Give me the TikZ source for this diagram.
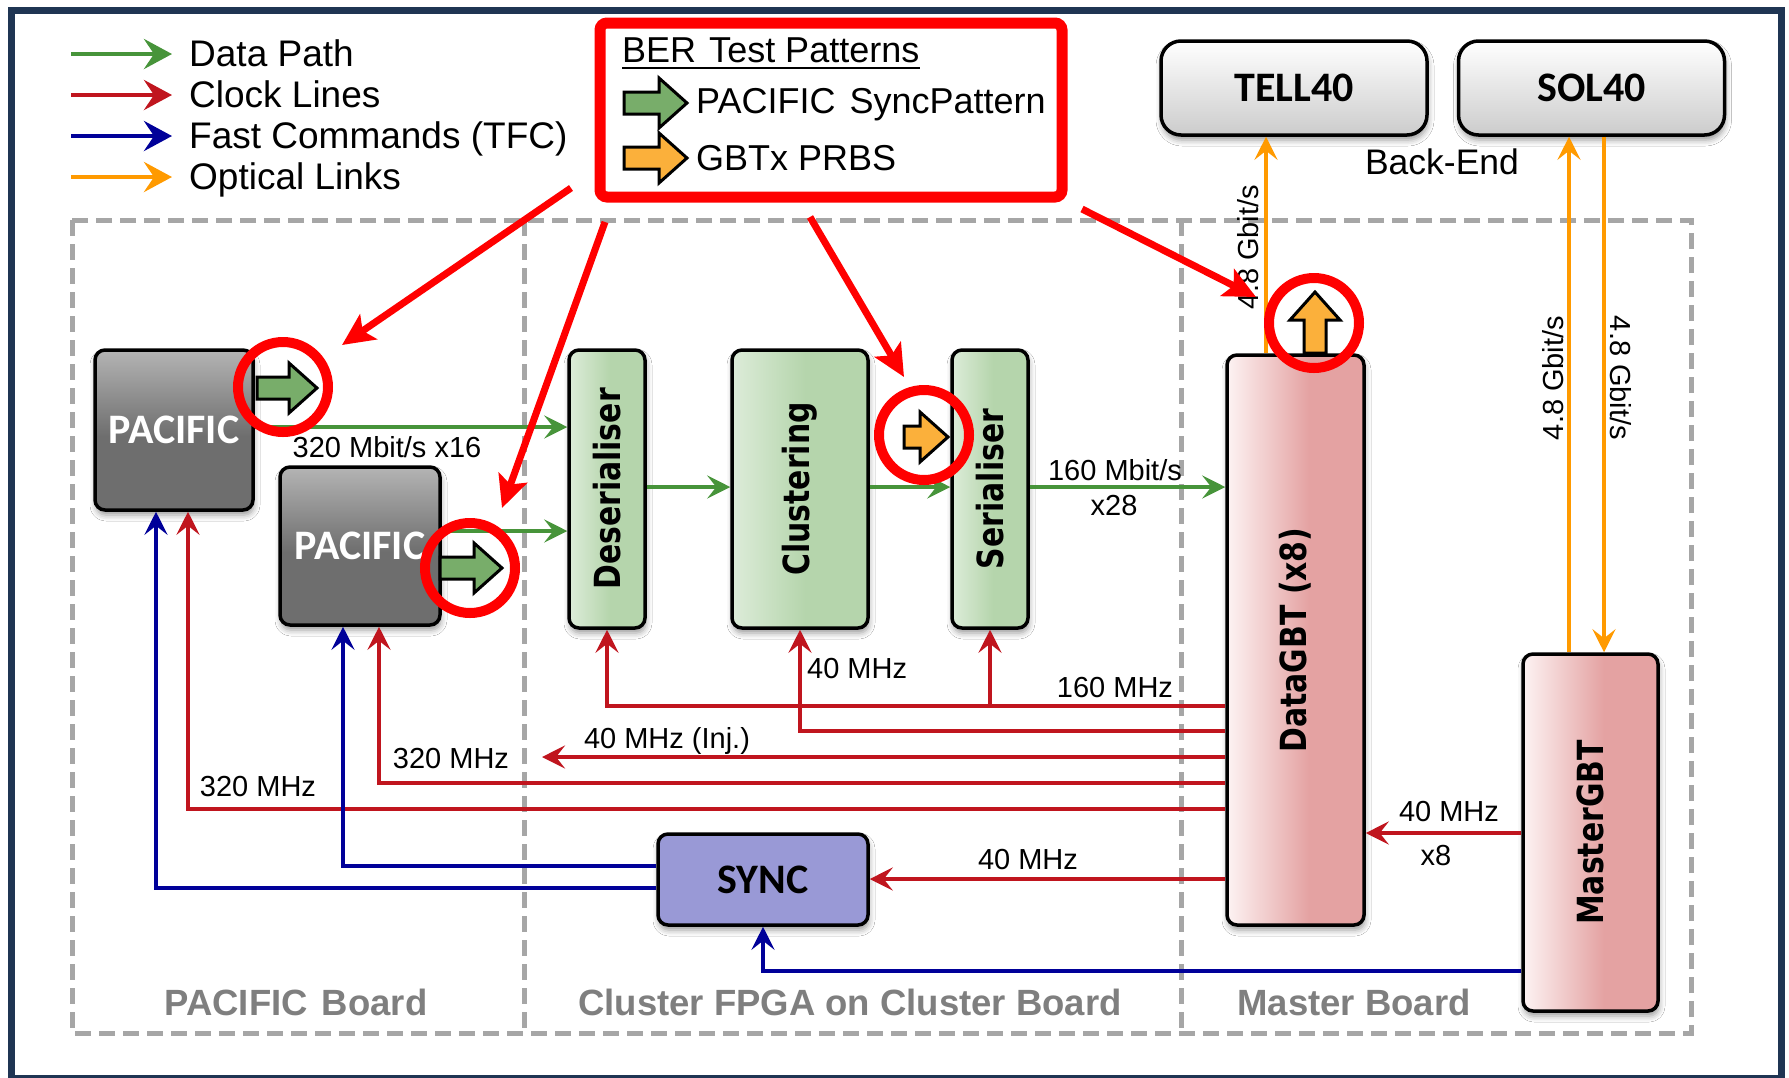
\documentclass[tikz,border=0pt]{standalone}
\usepackage{fontspec}
\setmainfont{Liberation Sans}
\newfontfamily\calfont{Carlito}
\newfontfamily\dvfont[FakeStretch=0.83]{DejaVu Sans}
\usetikzlibrary{arrows.meta,shadows.blur}

% palette
\definecolor{frameblue}{HTML}{1F3553}
\definecolor{datagreen}{HTML}{47943A}
\definecolor{clockred}{HTML}{C0151E}
\definecolor{tfcblue}{HTML}{000099}
\definecolor{optorange}{HTML}{FF9A00}
\definecolor{boardgray}{HTML}{A6A6A6}
\definecolor{labelgray}{HTML}{7F7F7F}
\definecolor{calloutred}{HTML}{FF0000}
\definecolor{syncfill}{HTML}{9999D6}
\definecolor{bagreen}{HTML}{78AD6A}
\definecolor{baorange}{HTML}{FBB03B}
\definecolor{grL}{HTML}{DDECD9}
\definecolor{grR}{HTML}{B5D5AC}
\definecolor{pkL}{HTML}{FDF3F3}
\definecolor{pkR}{HTML}{E4A2A2}
\definecolor{pcL}{HTML}{B4B4B4}
\definecolor{pcD}{HTML}{6E6E6E}

% box fills
\pgfdeclarehorizontalshading{greenfade}{100bp}{color(0bp)=(grL); color(25bp)=(grL); color(52bp)=(grR); color(100bp)=(grR)}
\pgfdeclarehorizontalshading{pinkfade}{100bp}{color(0bp)=(pkL); color(25bp)=(pkL); color(55bp)=(pkR); color(100bp)=(pkR)}
\pgfdeclareverticalshading{greyfade}{100bp}{color(0bp)=(pcD); color(48bp)=(pcD); color(75bp)=(pcL); color(100bp)=(pcL)}

% font sizes
\newcommand\legendfs{\fontsize{37}{41}\selectfont}
\newcommand\berfs{\fontsize{36}{40}\selectfont}
\newcommand\ratefs{\fontsize{29}{33}\selectfont}
\newcommand\chipfs{\calfont\bfseries\fontsize{42}{48}\selectfont}
\newcommand\blockfs{\dvfont\bfseries\fontsize{36}{42}\selectfont}
\newcommand\boardfs{\bfseries\fontsize{36.5}{40}\selectfont}

\tikzset{
  chip/.style={draw=black, line width=3.5pt, rounded corners=10pt, inner sep=0pt,
    blur shadow={shadow xshift=1pt, shadow yshift=-5pt, shadow blur radius=6pt, shadow opacity=40}},
  pacific/.style={chip, shade, shading=greyfade, minimum width=158pt, minimum height=160pt,
    text=white, font=\chipfs},
  fpgablock/.style={chip, shade, shading=greenfade, minimum height=278pt, font=\blockfs},
  gbtblock/.style={chip, shade, shading=pinkfade, font=\blockfs},
  backend/.style={chip, rounded corners=20pt, top color=white, bottom color=black!20,
    minimum width=266pt, minimum height=94pt, font=\chipfs},
  syncblock/.style={chip, fill=syncfill, minimum width=210pt, minimum height=91pt, font=\chipfs},
  boardline/.style={draw=boardgray, line width=5pt, dash pattern=on 16pt off 8pt},
  boardlabel/.style={inner sep=0pt, anchor=base, text=labelgray, font=\boardfs},
  txt/.style={inner sep=0pt, font=\legendfs},
  bertxt/.style={inner sep=0pt, font=\berfs},
  rate/.style={inner sep=0pt, font=\ratefs},
  linktip/.style={-{Stealth[length=23pt,width=23pt,inset=9pt]}},
  datapath/.style={draw=datagreen, line width=4pt, linktip},
  clockline/.style={draw=clockred, line width=4pt, linktip},
  tfcline/.style={draw=tfcblue, line width=4pt, linktip},
  optline/.style={draw=optorange, line width=3.5pt, linktip},
  legendtip/.style={line width=4.5pt, -{Stealth[length=28pt,width=30pt,inset=10pt]}},
  blockline/.style={draw=black, line width=3pt, line join=miter},
  ring/.style={circle, draw=calloutred, line width=10pt, minimum size=90pt, inner sep=0pt},
  berbox/.style={draw=calloutred, line width=11pt, rounded corners=7pt, fill=white,
    minimum width=462pt, minimum height=174pt, inner sep=0pt},
  callout/.style={draw=calloutred, line width=7pt, -{Stealth[length=32pt,width=30pt,inset=7pt]}}
}

% block arrow marker: tip x, tip y, rotation, fill, total length
\newcommand\blkarrow[5]{%
  \draw[blockline, fill=#4, shift={(#1,#2)}, rotate=#3]
    (0,0) -- (-28,-25) -- (-28,-11) -- (-#5,-11) -- (-#5,11) -- (-28,11) -- (-28,25) -- cycle;}

\begin{document}
\begin{tikzpicture}[x=1pt,y=-1pt]
\path[use as bounding box, fill=white] (0,0) rectangle (1789,1077);
\draw[frameblue, line width=7pt] (11,10) rectangle (1781,1078);

% ---- legend ----
\coordinate (lg1s) at (71,54);  \coordinate (lg1e) at (172,54);
\coordinate (lg2s) at (71,95);  \coordinate (lg2e) at (172,95);
\coordinate (lg3s) at (71,136); \coordinate (lg3e) at (172,136);
\coordinate (lg4s) at (71,177); \coordinate (lg4e) at (172,177);
\draw[legendtip, datagreen] (lg1s) -- (lg1e);
\draw[legendtip, clockred]  (lg2s) -- (lg2e);
\draw[legendtip, tfcblue]   (lg3s) -- (lg3e);
\draw[legendtip, optorange] (lg4s) -- (lg4e);
\node[txt, anchor=base west] (lgt1) at (189,66)  {Data Path};
\node[txt, anchor=base west] (lgt2) at (189,107) {Clock Lines};
\node[txt, anchor=base west] (lgt3) at (189,148) {Fast Commands (TFC)};
\node[txt, anchor=base west] (lgt4) at (189,189) {Optical Links};

% ---- board outlines ----
\draw[boardline] (72,220) rectangle (1691,1033);
\draw[boardline] (524,220) -- (524,1033);
\draw[boardline] (1181,220) -- (1181,1033);
\node[boardlabel] (bl1) at (296,1015) {PACIFIC\kern4pt\ Board};
\node[boardlabel] (bl2) at (850,1015) {Cluster FPGA on Cluster Board};
\node[boardlabel] (bl3) at (1354,1015) {Master Board};

% ---- back-end ----
\node[backend] (tell) at (1294,88) {TELL40};
\node[backend] (sol) at (1591.5,88) {SOL40};
\node[bertxt, anchor=base, font=\fontsize{35.5}{40}\selectfont] (be) at (1442,174) {Back-End};

% ---- blocks ----
\node[pacific] (p1) at (174,430) {PACIFIC};
\node[pacific, minimum width=160pt, minimum height=158pt] (p2) at (360,546) {PACIFIC};
\node[fpgablock, minimum width=76pt] (des) at (607,489) {\rotatebox{90}{Deserialiser}};
\node[fpgablock, minimum width=136pt] (clu) at (800,489) {\rotatebox{90}{Clustering}};
\node[fpgablock, minimum width=76pt] (ser) at (990,489) {\rotatebox{90}{Serialiser}};
\node[gbtblock, minimum width=137pt, minimum height=570pt] (dgbt) at (1295.5,640) {\rotatebox{90}{DataGBT (x8)}};
\node[gbtblock, minimum width=135pt, minimum height=357pt] (mgbt) at (1590.5,832.5) {\rotatebox{90}{MasterGBT}};
\node[syncblock] (sync) at (763,879.5) {SYNC};

% ---- data path ----
\draw[datapath] (p1.east |- 0,427) -- (des.west |- 0,427);
\draw[datapath] (p2.east |- 0,531) -- (des.west |- 0,531);
\draw[datapath] (des.east |- 0,487) -- (clu.west |- 0,487);
\draw[datapath] (clu.east |- 0,487) -- (ser.west |- 0,487);
\draw[datapath] (ser.east |- 0,487) -- (dgbt.west |- 0,487);
\node[rate, anchor=base] (r320) at (387,457) {320 Mbit/s x16};
\node[rate, anchor=base] (r160) at (1115,480) {160 Mbit/s};
\node[rate, anchor=base] (r28) at (1114,515) {x28};

% ---- clock lines ----
\coordinate (injend) at (542,757);
\draw[clockline] (dgbt.west |- 0,706) -| (des.south);
\draw[clockline] (ser.south |- 0,706) -- (ser.south);
\draw[clockline] (dgbt.west |- 0,731) -| (clu.south);
\draw[clockline] (dgbt.west |- 0,757) -- (injend);
\draw[clockline] (dgbt.west |- 0,783) -| ([xshift=19pt]p2.south);
\draw[clockline] (dgbt.west |- 0,809) -| ([xshift=14pt]p1.south);
\draw[clockline] (dgbt.west |- 0,879) -- (sync.east |- 0,879);
\draw[clockline] (mgbt.west |- 0,833) -- (dgbt.east |- 0,833);
\node[rate, anchor=base] (f160) at (1115,697) {160 MHz};
\node[rate, anchor=base west] (f40c) at (807,678) {40 MHz};
\node[rate, anchor=base] (finj) at (667,748) {40 MHz (Inj.)};
\node[rate, anchor=base] (f320b) at (451,768) {320 MHz};
\node[rate, anchor=base] (f320a) at (258,796) {320 MHz};
\node[rate, anchor=base] (f40s) at (1028,869) {40 MHz};
\node[rate, anchor=base] (f40m) at (1449,821) {40 MHz};
\node[rate, anchor=base] (fx8) at (1436,865) {x8};

% ---- fast commands ----
\draw[tfcline] (sync.west |- 0,888) -| ([xshift=-18pt]p1.south);
\draw[tfcline] (sync.west |- 0,866) -| ([xshift=-17pt]p2.south);
\draw[tfcline] (mgbt.west |- 0,971) -| (sync.south);

% ---- optical links ----
\draw[optline] (dgbt.north -| 1266,0) -- (tell.south -| 1266,0);
\draw[optline] (mgbt.north -| 1569,0) -- (sol.south -| 1569,0);
\draw[optline] (sol.south -| 1604,0) -- (mgbt.north -| 1604,0);
\node[rate, rotate=90] (o1) at (1248,247) {4.8 Gbit/s};
\node[rate, rotate=90] (o2) at (1553,378) {4.8 Gbit/s};
\node[rate, rotate=-90] (o3) at (1621,378) {4.8 Gbit/s};

% ---- BER test pattern key ----
\node[berbox] (ber) at (831,110) {};
\node[bertxt, anchor=base west] (bert) at (622,62) {BER\kern3pt\ Test Patterns};
\draw[line width=2pt] ([yshift=-6pt]bert.base west) -- ([yshift=-6pt]bert.base east);
\blkarrow{687}{103}{0}{bagreen}{63}
\blkarrow{687}{158}{0}{baorange}{63}
\node[bertxt, anchor=base west] (bers) at (696,113) {PACIFIC\kern4pt\ SyncPattern};
\node[bertxt, anchor=base west] (berg) at (696,170) {GBTx PRBS};

% ---- pattern injection points ----
\blkarrow{317}{388}{0}{bagreen}{60}
\blkarrow{502}{568}{0}{bagreen}{62}
\blkarrow{948}{437}{0}{baorange}{44}
\blkarrow{1315}{292}{90}{baorange}{61}
\node[ring] (c1) at (283,387) {};
\node[ring] (c2) at (470,568) {};
\node[ring] (c3) at (924,435) {};
\node[ring] (c4) at (1314,323) {};

\coordinate (a1s) at (571,188); \coordinate (a1e) at (342,345);
\coordinate (a2s) at (605,222); \coordinate (a2e) at (502,508);
\coordinate (a3s) at (810,217); \coordinate (a3e) at (904,377);
\coordinate (a4s) at (1082,209); \coordinate (a4e) at (1256,297);
\draw[callout] (a1s) -- (a1e);
\draw[callout] (a2s) -- (a2e);
\draw[callout] (a3s) -- (a3e);
\draw[callout] (a4s) -- (a4e);
\end{tikzpicture}
\end{document}
